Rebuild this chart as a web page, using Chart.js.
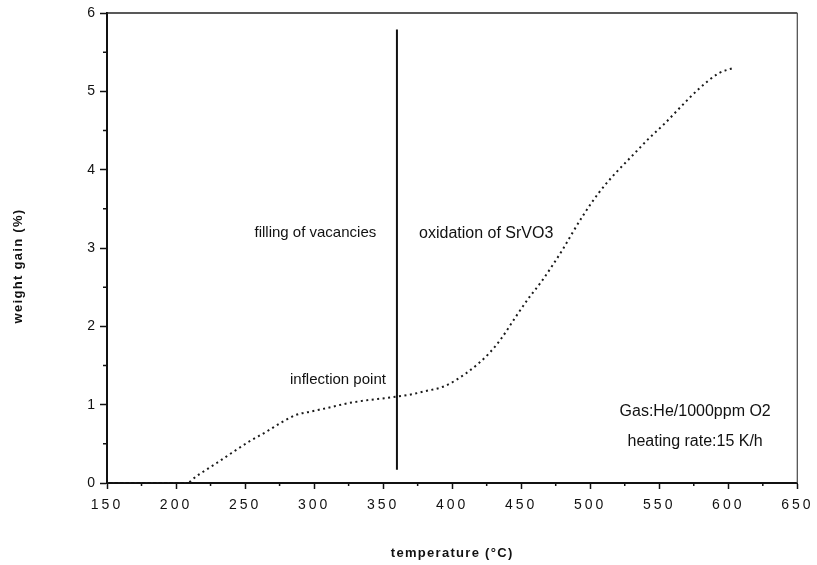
<!DOCTYPE html>
<html>
<head>
<meta charset="utf-8">
<script src="https://cdn.jsdelivr.net/npm/chart.js@4/dist/chart.umd.min.js"></script>
<style>
  html, body { margin: 0; padding: 0; background: #fff; }
  #wrap { width: 817px; height: 565px; }
</style>
</head>
<body>
<div id="wrap"><canvas id="myChart"></canvas></div>
<script>
// temperature (°C) and weight gain (%)
var temps = [150, 180, 207.6, 215, 222, 229, 240, 253, 265, 277, 287, 297, 310, 325, 340, 350,
             359, 370, 380, 395, 410, 420, 427, 435, 446, 455, 465, 472, 480, 487, 495, 506,
             518, 530, 542, 554, 566, 578, 593, 604];
var gains = [0, 0, 0, 0.09, 0.17, 0.25, 0.38, 0.53, 0.65, 0.78, 0.87, 0.91, 0.96, 1.02, 1.06, 1.08,
             1.1, 1.13, 1.17, 1.24, 1.4, 1.54, 1.66, 1.83, 2.12, 2.35, 2.58, 2.76, 2.98, 3.19, 3.42, 3.7,
             3.95, 4.17, 4.39, 4.59, 4.81, 5.02, 5.23, 5.3];

// vertical marker at the inflection point
var markerX = [360, 360];
var markerY = [0.17, 5.79];

var xTicks = [150, 200, 250, 300, 350, 400, 450, 500, 550, 600, 650];
var yTicks = [0, 1, 2, 3, 4, 5, 6];

// text notes: [text, x, y, align, size]
var notes = [
  ["filling of vacancies", 345, 3.19, "right", 15],
  ["oxidation of SrVO3", 376, 3.19, "left", 16],
  ["inflection point", 352, 1.32, "right", 15],
  ["Gas:He/1000ppm O2", 576, 0.91, "center", 16],
  ["heating rate:15 K/h", 576, 0.53, "center", 16]
];

var FONT = "'Liberation Sans', Arial, Helvetica, sans-serif";

function pts(xs, ys) {
  return xs.map(function (x, i) { return { x: x, y: ys[i] }; });
}

var spacing = {
  id: "spacing",
  beforeDraw: function (chart) { chart.ctx.letterSpacing = "3px"; },
  beforeDatasetsDraw: function (chart) { chart.ctx.letterSpacing = "0px"; }
};

var extras = {
  id: "extras",
  afterDraw: function (chart) {
    var ctx = chart.ctx, a = chart.chartArea;
    var xs = chart.scales.x, ys = chart.scales.y;
    ctx.save();
    // top and right frame
    ctx.strokeStyle = "#222";
    ctx.lineWidth = 1.5;
    ctx.beginPath();
    ctx.moveTo(a.left, a.top); ctx.lineTo(a.right, a.top);
    ctx.stroke();
    ctx.strokeStyle = "#555";
    ctx.lineWidth = 1.3;
    ctx.beginPath();
    ctx.moveTo(a.right, a.top); ctx.lineTo(a.right, a.bottom);
    ctx.stroke();
    // minor ticks
    ctx.strokeStyle = "#111";
    ctx.lineWidth = 1.5;
    ctx.beginPath();
    for (var v = 175; v < 650; v += 50) {
      var px = xs.getPixelForValue(v);
      ctx.moveTo(px, a.bottom); ctx.lineTo(px, a.bottom + 3);
    }
    for (var w = 0.5; w < 6; w += 1) {
      var py = ys.getPixelForValue(w);
      ctx.moveTo(a.left, py); ctx.lineTo(a.left - 4, py);
    }
    ctx.stroke();
    // notes
    ctx.fillStyle = "#111";
    ctx.textBaseline = "middle";
    notes.forEach(function (n) {
      ctx.font = n[4] + "px " + FONT;
      ctx.textAlign = n[3];
      ctx.fillText(n[0], xs.getPixelForValue(n[1]), ys.getPixelForValue(n[2]));
    });
    // axis titles
    ctx.font = "bold 13px " + FONT;
    ctx.letterSpacing = "1.3px";
    ctx.textAlign = "center";
    ctx.fillText("temperature (\u00B0C)", (a.left + a.right) / 2, 553);
    ctx.translate(18, 266);
    ctx.rotate(-Math.PI / 2);
    ctx.fillText("weight gain (%)", 0, 0);
    ctx.restore();
  }
};

const CHART = document.getElementById("myChart");
let myChart = new Chart(CHART, {
  type: "scatter",
  data: {
    datasets: [{
      data: pts(temps, gains),
      showLine: true,
      borderColor: "#1a1a1a",
      borderWidth: 2,
      borderDash: [2, 3.5],
      pointRadius: 0,
      cubicInterpolationMode: "monotone"
    }, {
      data: pts(markerX, markerY),
      showLine: true,
      borderColor: "#111",
      borderWidth: 2,
      pointRadius: 0
    }]
  },
  options: {
    responsive: true,
    maintainAspectRatio: false,
    animation: false,
    layout: { padding: { top: 13, right: 18, left: 0, bottom: 0 } },
    plugins: { legend: { display: false }, tooltip: { enabled: false } },
    scales: {
      x: {
        type: "linear",
        min: 150, max: 650,
        afterBuildTicks: function (s) { s.ticks = xTicks.map(function (v) { return { value: v }; }); },
        afterFit: function (s) { s.height = 82; },
        grid: { drawOnChartArea: false, tickLength: 6, tickWidth: 1.5, tickColor: "#111" },
        border: { color: "#111", width: 2 },
        ticks: { color: "#111", font: { family: FONT, size: 14 }, padding: 8, maxRotation: 0 }
      },
      y: {
        min: 0, max: 6,
        afterBuildTicks: function (s) { s.ticks = yTicks.map(function (v) { return { value: v }; }); },
        afterFit: function (s) { s.width = 107; },
        grid: { drawOnChartArea: false, tickLength: 7, tickWidth: 1.5, tickColor: "#111" },
        border: { color: "#111", width: 2 },
        ticks: { color: "#111", font: { family: FONT, size: 14 }, padding: 2 }
      }
    }
  },
  plugins: [spacing, extras]
});
</script>
</body>
</html>
